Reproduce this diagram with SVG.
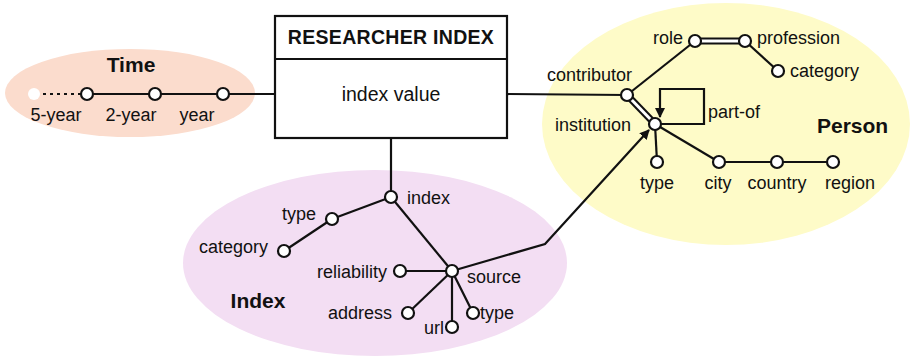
<svg xmlns="http://www.w3.org/2000/svg" width="910" height="363" viewBox="0 0 910 363">
<style>
text{font-family:"Liberation Sans",Arial,Helvetica,sans-serif;fill:#111;font-size:18px}
.b{font-weight:bold;font-size:21px}
.t{font-weight:bold;font-size:19.5px;letter-spacing:0.3px}
.v{font-size:19.5px}
.e{text-anchor:end}
.m{text-anchor:middle}
.ln{stroke:#111;stroke-width:2.2;fill:none}
.n{fill:#fff;stroke:#111;stroke-width:2.2}
.dbo{stroke:#111;stroke-width:7;fill:none;stroke-linecap:butt}
.dbi{stroke:#fff;stroke-width:3;fill:none;stroke-linecap:butt}
</style>
<defs>
<marker id="ah" markerWidth="10" markerHeight="10" refX="9" refY="5" orient="auto" markerUnits="userSpaceOnUse">
<path d="M0,0 L10,5 L0,10 Z" fill="#111"/>
</marker>
</defs>
<rect width="910" height="363" fill="#fff"/>
<g id="areas">
<ellipse cx="130" cy="93" rx="125" ry="44" fill="#fbdccd"/>
<ellipse cx="726" cy="124" rx="184" ry="121" fill="#fefbc8"/>
<ellipse cx="375" cy="263" rx="192" ry="93" fill="#f3def3"/>
</g>
<g id="connectors">
<line class="ln" x1="223" y1="94" x2="275" y2="94"/>
<line class="ln" x1="507" y1="94" x2="627" y2="95"/>
<line class="ln" x1="391" y1="138" x2="391" y2="197"/>
<line x1="43" y1="94" x2="81" y2="94" stroke="#111" stroke-width="2.2" stroke-dasharray="3,4"/>
<line class="ln" x1="87" y1="94" x2="223" y2="94"/>
<line class="ln" x1="627" y1="95" x2="695" y2="41"/>
<line class="dbo" x1="695" y1="41" x2="745" y2="41"/>
<line class="dbi" x1="695" y1="41" x2="745" y2="41"/>
<line class="ln" x1="745" y1="41" x2="778" y2="71"/>
<line class="dbo" x1="627" y1="95" x2="655" y2="124"/>
<line class="dbi" x1="627" y1="95" x2="655" y2="124"/>
<path class="ln" d="M655,124 H704 V89 H660 V117" marker-end="url(#ah)"/>
<line class="ln" x1="655" y1="124" x2="657" y2="162"/>
<line class="ln" x1="655" y1="124" x2="719" y2="162"/>
<line class="ln" x1="719" y1="162" x2="833" y2="162"/>
<line class="ln" x1="391" y1="197" x2="332" y2="219"/>
<line class="ln" x1="332" y1="219" x2="284" y2="251"/>
<line class="ln" x1="391" y1="197" x2="452" y2="271"/>
<line class="ln" x1="400" y1="271" x2="452" y2="271"/>
<line class="ln" x1="452" y1="271" x2="408" y2="313"/>
<line class="ln" x1="452" y1="271" x2="452" y2="327"/>
<line class="ln" x1="452" y1="271" x2="473" y2="313"/>
<path class="ln" d="M452,271 L545,244 L649,130" marker-end="url(#ah)"/>
</g>
<g id="researcher-index">
<rect x="275" y="16" width="232" height="122" fill="#fff" stroke="#111" stroke-width="2.2"/>
<line class="ln" x1="275" y1="59" x2="507" y2="59"/>
<text class="t m" x="391" y="44">RESEARCHER INDEX</text>
<text class="v m" x="391" y="101">index value</text>
</g>
<g id="time">
<text class="b m" x="131" y="72">Time</text>
<circle cx="34" cy="94" r="6" fill="#fff"/>
<circle class="n" cx="87" cy="94" r="6"/>
<circle class="n" cx="155" cy="94" r="6"/>
<circle class="n" cx="223" cy="94" r="6"/>
<text class="m" x="56" y="121">5-year</text>
<text class="m" x="131" y="121">2-year</text>
<text class="m" x="197" y="121">year</text>
</g>
<g id="person">
<text class="b" x="817" y="133">Person</text>
<circle class="n" cx="627" cy="95" r="6"/>
<text x="547" y="81">contributor</text>
<circle class="n" cx="695" cy="41" r="6"/>
<text class="e" x="683" y="44">role</text>
<circle class="n" cx="745" cy="41" r="6"/>
<text x="757" y="44">profession</text>
<circle class="n" cx="778" cy="71" r="6"/>
<text x="790" y="77">category</text>
<circle class="n" cx="655" cy="124" r="6"/>
<text class="e" x="631" y="131">institution</text>
<text x="708" y="118">part-of</text>
<circle class="n" cx="657" cy="162" r="6"/>
<text class="m" x="657" y="189">type</text>
<circle class="n" cx="719" cy="162" r="6"/>
<text class="m" x="718" y="189">city</text>
<circle class="n" cx="777" cy="162" r="6"/>
<text class="m" x="777" y="189">country</text>
<circle class="n" cx="833" cy="162" r="6"/>
<text class="m" x="850" y="189">region</text>
</g>
<g id="index">
<text class="b m" x="258" y="308">Index</text>
<circle class="n" cx="391" cy="197" r="6"/>
<text x="407" y="204">index</text>
<circle class="n" cx="332" cy="219" r="6"/>
<text class="e" x="316" y="220">type</text>
<circle class="n" cx="284" cy="251" r="6"/>
<text class="e" x="268" y="253">category</text>
<circle class="n" cx="452" cy="271" r="6"/>
<text x="467" y="283">source</text>
<circle class="n" cx="400" cy="271" r="6"/>
<text class="e" x="387" y="278">reliability</text>
<circle class="n" cx="408" cy="313" r="6"/>
<text class="e" x="392" y="319">address</text>
<circle class="n" cx="452" cy="327" r="6"/>
<text class="e" x="444" y="334">url</text>
<circle class="n" cx="473" cy="313" r="6"/>
<text x="480" y="319">type</text>
</g>
</svg>
